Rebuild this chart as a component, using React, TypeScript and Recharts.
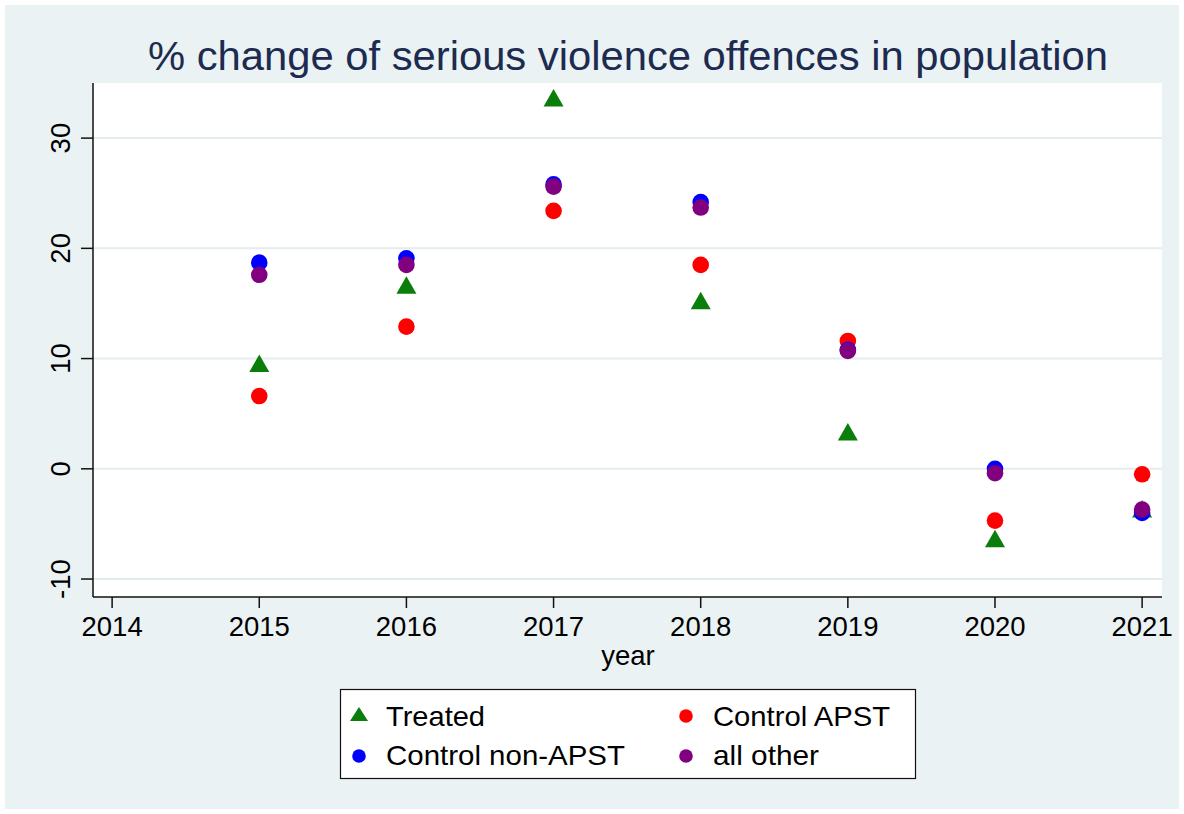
import React from 'react'
import { ScatterChart, Scatter, XAxis, YAxis, CartesianGrid } from 'recharts'

const years = [2015, 2016, 2017, 2018, 2019, 2020, 2021]
const treated = [9.5, 16.6, 33.6, 15.2, 3.3, -6.4, -3.7]
const controlApst = [6.6, 12.9, 23.4, 18.5, 11.6, -4.7, -0.5]
const controlNonApst = [18.7, 19.1, 25.8, 24.2, 10.8, 0.0, -4.0]
const allOther = [17.6, 18.5, 25.6, 23.7, 10.7, -0.4, -3.7]

const xTicks = [2014, 2015, 2016, 2017, 2018, 2019, 2020, 2021]
const yTicks = [-10, 0, 10, 20, 30]

const toPoints = (vals: number[]) => years.map((year, i) => ({ year, value: vals[i] }))

const FONT = '"Liberation Sans", Arial, Helvetica, sans-serif'
const BG = '#eaf2f3'

const Triangle = (props: any) => {
  const { cx, cy } = props
  if (cx == null || cy == null) return null
  return <polygon points={`${cx},${cy - 9.5} ${cx - 10},${cy + 8} ${cx + 10},${cy + 8}`} fill="#0a7d0a" />
}

const dot = (color: string) => (props: any) => {
  const { cx, cy } = props
  if (cx == null || cy == null) return null
  return <circle cx={cx} cy={cy} r={8.3} fill={color} />
}

const YTick = (props: any) => {
  const { x, y, payload } = props
  const tx = x - 9
  return (
    <text x={tx} y={y} transform={`rotate(-90, ${tx}, ${y})`} textAnchor="middle" fontSize={27.5} fontFamily={FONT} fill="#000">
      {payload.value}
    </text>
  )
}

const XTick = (props: any) => {
  const { x, y, payload } = props
  return (
    <text x={x} y={y + 26} textAnchor="middle" fontSize={27.5} fontFamily={FONT} fill="#000">
      {payload.value}
    </text>
  )
}

export default function App() {
  return (
    <div style={{ position: 'absolute', left: 0, top: 0, width: 1184, height: 814, background: '#fff', overflow: 'hidden' }}>
      <div style={{ position: 'absolute', left: 5, top: 5, width: 1174, height: 804, background: BG }} />
      <div style={{ position: 'absolute', left: 0, top: 0 }}>
        <ScatterChart width={1184} height={814} margin={{ top: 83, right: 22, bottom: 167, left: 13 }}>
          <CartesianGrid vertical={false} horizontal fill="#fff" stroke="#e4ecee" strokeWidth={2} horizontalValues={yTicks} />
          <XAxis
            type="number"
            dataKey="year"
            domain={[2013.87, 2021.135]}
            ticks={xTicks}
            allowDataOverflow
            height={50}
            tickSize={11}
            tick={<XTick />}
            axisLine={{ stroke: '#111', strokeWidth: 1.5 }}
            tickLine={{ stroke: '#111', strokeWidth: 1.5 }}
          />
          <YAxis
            type="number"
            dataKey="value"
            domain={[-11.63, 35]}
            ticks={yTicks}
            allowDataOverflow
            width={80}
            tickSize={12}
            tick={<YTick />}
            axisLine={{ stroke: '#111', strokeWidth: 1.5 }}
            tickLine={{ stroke: '#111', strokeWidth: 1.5 }}
          />
          <Scatter name="Treated" data={toPoints(treated)} shape={Triangle} isAnimationActive={false} />
          <Scatter name="Control APST" data={toPoints(controlApst)} shape={dot('#ff0000')} isAnimationActive={false} />
          <Scatter name="Control non-APST" data={toPoints(controlNonApst)} shape={dot('#0000ff')} isAnimationActive={false} />
          <Scatter name="all other" data={toPoints(allOther)} shape={dot('#800080')} isAnimationActive={false} />
        </ScatterChart>
      </div>
      <svg width={1184} height={814} style={{ position: 'absolute', left: 0, top: 0, pointerEvents: 'none' }}>
        <text x={628} y={70} textAnchor="middle" fontSize={40} fontFamily={FONT} fill="#1c2b4f" textLength={960} lengthAdjust="spacingAndGlyphs">
          % change of serious violence offences in population
        </text>
        <text x={628} y={665} textAnchor="middle" fontSize={27.5} fontFamily={FONT} fill="#000">
          year
        </text>
        <rect x={340.5} y={689.5} width={575} height={89} fill="#fff" stroke="#111" strokeWidth={1.2} />
        <polygon points="359,707 350,721 368,721" fill="#0a7d0a" />
        <text x={386} y={726} fontSize={28.5} fontFamily={FONT} fill="#000" textLength={99} lengthAdjust="spacingAndGlyphs">Treated</text>
        <circle cx={686} cy={716} r={6.8} fill="#ff0000" />
        <text x={713} y={726} fontSize={28.5} fontFamily={FONT} fill="#000" textLength={177} lengthAdjust="spacingAndGlyphs">Control APST</text>
        <circle cx={359} cy={756} r={6.8} fill="#0000ff" />
        <text x={386} y={765} fontSize={28.5} fontFamily={FONT} fill="#000" textLength={239} lengthAdjust="spacingAndGlyphs">Control non-APST</text>
        <circle cx={686} cy={756} r={6.8} fill="#800080" />
        <text x={713} y={765} fontSize={28.5} fontFamily={FONT} fill="#000" textLength={106} lengthAdjust="spacingAndGlyphs">all other</text>
      </svg>
    </div>
  )
}
